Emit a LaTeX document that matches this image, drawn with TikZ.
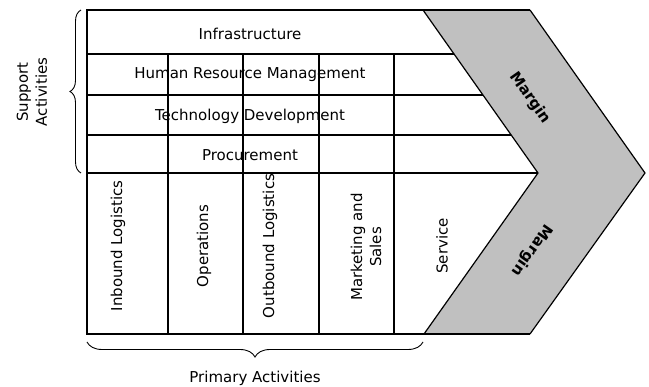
\documentclass[tikz,border=0pt]{standalone}
\usepackage{fontspec}
\setmainfont{DejaVu Sans}
\usepackage{tikz}
\usetikzlibrary{calc, positioning, decorations.pathreplacing}
\definecolor{margingray}{HTML}{C0C0C0}
\tikzset{
	rule/.style={line width=1.2pt},
	divider/.style={line width=2.2pt},
	activity/.style={rotate=90, align=center},
	marginlabel/.style={font=\fontsize{15}{17}\selectfont\bfseries},
	bracket/.style={line width=0.9pt, decorate, decoration={brace, amplitude=#1}},
}

\begin{document}
\begin{tikzpicture}[x=1pt, y=-1pt, font=\fontsize{15}{19}\selectfont]
			\useasboundingbox (0,0) rectangle (649,387);
			% margin chevron
			\fill[margingray] (423,10) -- (530,10) -- (645,173) -- (530,334) -- (424,334) -- (538,173) -- cycle;
			\draw[rule] (423,10) -- (538,173) -- (424,334);
			\draw[rule] (530,10) -- (645,173) -- (530,334);
			\draw[rule] (530,10) -- (87,10) -- (87,334) -- (530,334);
			% support rows and columns
			\foreach \y in {54,95,135,173} {
					\pgfmathsetmacro\xend{423+(\y-10)/163*115}
					\draw[rule] (87,\y) -- (\xend,\y);
				}
			\foreach \x in {168,319} {
					\draw[rule] (\x,54) -- (\x,334);
				}
			\foreach \x in {243,394} {
					\draw[divider] (\x,54) -- (\x,173);
					\draw[rule] (\x,173) -- (\x,334);
				}
			\node (infra) at (250,34) {Infrastructure};
			\node (hrm) at (250,75) {Human Resource Management};
			\node (tech) at (250,116) {Technology Development};
			\node (proc) at (250,155) {Procurement};
			\node[activity] (inbound) at (118,246) {Inbound Logistics};
			\node[activity] (ops) at (204,246) {Operations};
			\node[activity] (outbound) at (270,246) {Outbound Logistics};
			\node[activity] (marketing) at (366,247) {Marketing and\\Sales};
			\node[activity] (service) at (442,246) {Service};
			\node[marginlabel, rotate=-55] (marginup) at (530,98) {Margin};
			\node[marginlabel, rotate=-125] (margindown) at (532,250) {Margin};
			% braces
			\draw[bracket=11pt] (81,173) -- (81,10);
			\node[activity] (support) at (32,92) {Support\\Activities};
			\draw[bracket=15pt] (423,342) -- (87,342);
			\node (primary) at (255,378) {Primary Activities};
		\end{tikzpicture}
\end{document}
